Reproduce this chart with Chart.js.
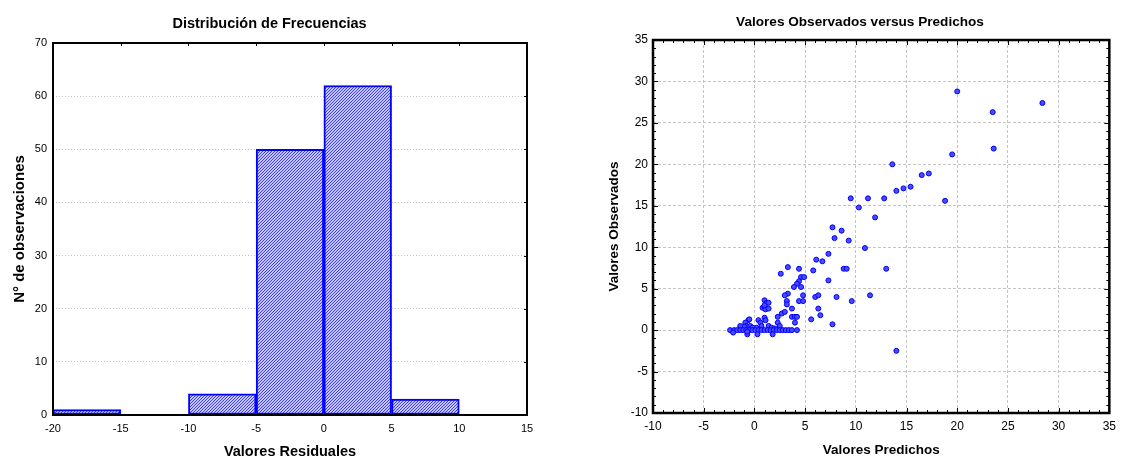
<!DOCTYPE html>
<html><head><meta charset="utf-8">
<script src="https://cdn.jsdelivr.net/npm/chart.js@4.4.1/dist/chart.umd.min.js"></script>
<style>
html,body{margin:0;padding:0;background:#fff;width:1122px;height:457px;overflow:hidden;}
.box{position:absolute;top:0;height:457px;width:561px;}
#b1{left:0;} #b2{left:561px;}
canvas{display:block;}
</style></head><body>
<div class="box" id="b1"><canvas id="c1" width="561" height="457"></canvas></div>
<div class="box" id="b2"><canvas id="c2" width="561" height="457"></canvas></div>
<script>
// ---- Histogram data ----
const binCenters = [-17.5, -12.5, -7.5, -2.5, 2.5, 7.5, 12.5];
const binCounts  = [1, 0, 4, 50, 62, 3, 0];
const histTitle = 'Distribución de Frecuencias';
const histXTitle = 'Valores Residuales';
const histYTitle = 'N° de observaciones';

// ---- Scatter data ----
const predichos = [
  20.0, 23.5, 28.4, 23.6, 19.5, 13.6, 16.5, 17.2, 14.0, 14.7, 15.4, 18.8, 9.5, 11.2, 12.8, 10.3, 11.9, 7.7, 8.6,
  7.9, 9.3, 10.9, 7.3, 6.1, 6.7, 3.3, 2.6, 4.4, 5.8, 8.8, 9.1, 13.0, 4.6, 4.9, 4.4, 4.2, 3.9, 4.6, 7.3,
  3.3, 3.0, 4.8, 6.0, 6.3, 8.1, 11.4, 3.2, 3.2, 4.4, 4.8, 9.6, 3.7, 6.3, 6.5, 5.6, 7.7, 2.7, 3.0, 2.3,
  3.7, 4.0, 4.2, 4.0, 2.3, 2.5, 14.0,
  1.0, 1.2, 1.4, 0.8, 1.0, 1.1, 1.4, 1.0, 1.0, 1.1, 0.4, 0.6, 1.4, 0.7, 0.2, -0.6, -0.5, -0.9, -0.8, -1.0,
  -1.4, -0.4, -0.2, 1.7, 2.0,
  -2.4, -2.0, -1.7, -1.4, -1.1, -0.8, -0.5, -0.2, 0.1, 0.4, 0.7, 1.0, 1.3, 1.6, 1.9, 2.2, 2.5, 2.8, 3.1,
  3.4, 3.7, 4.2,
  -2.1, -0.7, 0.3, 1.8, -0.7
];
const observados = [
  28.8, 26.3, 27.4, 21.9, 21.2, 20.0, 18.7, 18.9, 16.8, 17.1, 17.3, 15.6, 15.9, 15.9, 15.9, 14.8, 13.6, 12.4, 12.0,
  11.1, 10.8, 9.9, 9.2, 8.5, 8.3, 7.6, 6.8, 7.4, 7.2, 7.4, 7.4, 7.4, 6.4, 6.4, 5.9, 5.6, 5.2, 5.2, 6.0,
  4.4, 4.2, 4.2, 4.0, 4.2, 4.0, 4.2, 3.5, 3.1, 3.5, 3.5, 3.5, 2.6, 2.6, 1.8, 1.3, 0.7, 2.0, 2.2, 1.6,
  1.6, 1.6, 1.6, 0.9, 0.9, 0.5, -2.5,
  3.6, 3.3, 3.3, 2.7, 2.8, 2.5, 2.6, 3.0, 1.5, 1.2, 1.2, 0.9, 0.5, 0.5, 0.3, 1.2, 1.3, 0.9, 0.5, 0.4,
  0.5, 0.5, 0.3, 0.3, 0.2,
  0, 0, 0, 0, 0, 0, 0, 0, 0, 0, 0, 0, 0, 0, 0, 0, 0, 0, 0,
  0, 0, 0,
  -0.3, -0.5, -0.5, -0.5, -0.2
];
const scatTitle = 'Valores Observados versus Predichos';
const scatXTitle = 'Valores Predichos';
const scatYTitle = 'Valores Observados';

const F = '"Liberation Sans", Arial, Helvetica, sans-serif';

// hatch pattern (fine diagonal lines)
function makeHatch() {
  const t = document.createElement('canvas');
  t.width = 3; t.height = 3;
  const g = t.getContext('2d');
  g.fillStyle = '#ffffff'; g.fillRect(0, 0, 3, 3);
  g.strokeStyle = '#3030ff'; g.lineWidth = 1.05;
  g.beginPath();
  g.moveTo(-1, 4); g.lineTo(4, -1);
  g.moveTo(-1, 1); g.lineTo(1, -1);
  g.moveTo(2, 4); g.lineTo(4, 2);
  g.stroke();
  return g.createPattern(t, 'repeat');
}

// frame + inward tick marks drawn from the chart's own scales
const framePlugin = {
  id: 'frame',
  afterDatasetsDraw(chart, args, o) {
    const {ctx, chartArea: a} = chart;
    const xs = chart.scales.x, ys = chart.scales.y;
    ctx.save();
    ctx.strokeStyle = '#000';
    ctx.lineWidth = 1;
    const marks = (scale, step, len, sides, horiz) => {
      if (!step) return;
      ctx.beginPath();
      for (let v = scale.min; v <= scale.max + 1e-9; v += step) {
        const p = Math.round(scale.getPixelForValue(v)) + 0.5;
        for (const s of sides) {
          if (horiz) {
            if (s === 'top') { ctx.moveTo(p, a.top); ctx.lineTo(p, a.top + len); }
            else { ctx.moveTo(p, a.bottom); ctx.lineTo(p, a.bottom - len); }
          } else {
            if (s === 'left') { ctx.moveTo(a.left, p); ctx.lineTo(a.left + len, p); }
            else { ctx.moveTo(a.right, p); ctx.lineTo(a.right - len, p); }
          }
        }
      }
      ctx.stroke();
    };
    marks(xs, o.xMinor, o.minorLen, o.xSides, true);
    marks(ys, o.yMinor, o.minorLen, o.ySides, false);
    marks(xs, o.xMajor, o.majorLen, o.xSides, true);
    marks(ys, o.yMajor, o.majorLen, o.ySides, false);
    ctx.lineWidth = o.width;
    ctx.strokeRect(a.left, a.top, a.right - a.left, a.bottom - a.top);
    ctx.restore();
  }
};

// ---- Left: histogram ----
new Chart(document.getElementById('c1'), {
  type: 'bar',
  data: {
    datasets: [{
      data: binCenters.map((c, i) => ({x: c, y: binCounts[i]})),
      backgroundColor: makeHatch(),
      borderColor: '#0000ff',
      borderWidth: 2,
      borderSkipped: false,
      barPercentage: 1,
      categoryPercentage: 1
    }]
  },
  options: {
    responsive: false, animation: false, events: [],
    layout: {padding: {left: 12, right: 34, top: 0, bottom: 0}},
    plugins: {
      legend: {display: false}, tooltip: {enabled: false},
      title: {display: true, text: histTitle, color: '#000',
        font: {family: F, size: 14.5, weight: 'bold', lineHeight: 1.2}, padding: {top: 15, bottom: 10.6}},
      frame: {width: 2, xMajor: 5, yMajor: 10, majorLen: 3, xSides: ['top'], ySides: ['right']}
    },
    scales: {
      x: {type: 'linear', min: -20, max: 15, offset: false,
        ticks: {stepSize: 5, color: '#000', font: {family: F, size: 11}, padding: 7, maxRotation: 0},
        grid: {display: false, drawTicks: false}, border: {display: false},
        title: {display: true, text: histXTitle, color: '#000',
          font: {family: F, size: 14.5, weight: 'bold', lineHeight: 0.75}, padding: 0},
        afterFit(s) { s.height = 42; }
      },
      y: {min: 0, max: 70,
        ticks: {stepSize: 10, color: '#000', font: {family: F, size: 11}, padding: 6},
        grid: {color: '#c4c4c4', drawTicks: false, lineWidth: 1},
        border: {display: false, dash: [1, 2]},
        title: {display: true, text: histYTitle, color: '#000',
          font: {family: F, size: 15, weight: 'bold', lineHeight: 1.0}, padding: 0},
        afterFit(s) { s.width = 41; }
      }
    }
  },
  plugins: [framePlugin]
});

// ---- Right: scatter ----
new Chart(document.getElementById('c2'), {
  type: 'scatter',
  data: {
    datasets: [{
      data: predichos.map((x, i) => ({x: x, y: observados[i]})),
      pointStyle: 'circle',
      pointRadius: 2.5,
      backgroundColor: '#4a4aff',
      borderColor: '#0000ff',
      borderWidth: 1
    }]
  },
  options: {
    responsive: false, animation: false, events: [],
    layout: {padding: {left: 47, right: 10, top: 0, bottom: 0}},
    plugins: {
      legend: {display: false}, tooltip: {enabled: false},
      title: {display: true, text: scatTitle, color: '#000',
        font: {family: F, size: 13.6, weight: 'bold', lineHeight: 1.2}, padding: {top: 14, bottom: 9.7}},
      frame: {width: 2.5, xMinor: 1, yMinor: 1, minorLen: 3, xMajor: 5, yMajor: 5, majorLen: 5,
        xSides: ['top', 'bottom'], ySides: ['left', 'right']}
    },
    scales: {
      x: {type: 'linear', min: -10, max: 35,
        ticks: {stepSize: 5, color: '#000', font: {family: F, size: 12}, padding: 6, maxRotation: 0},
        grid: {color: '#c4c4c4', drawTicks: false, lineWidth: 1},
        border: {display: false, dash: [3, 2]},
        title: {display: true, text: scatXTitle, color: '#000',
          font: {family: F, size: 13.5, weight: 'bold', lineHeight: 1.0}, padding: 0},
        afterFit(s) { s.height = 44; }
      },
      y: {type: 'linear', min: -10, max: 35,
        ticks: {stepSize: 5, color: '#000', font: {family: F, size: 12}, padding: 5},
        grid: {color: '#c4c4c4', drawTicks: false, lineWidth: 1},
        border: {display: false, dash: [3, 2]},
        title: {display: true, text: scatYTitle, color: '#000',
          font: {family: F, size: 13.5, weight: 'bold', lineHeight: 1.0}, padding: 0},
        afterFit(s) { s.width = 45; }
      }
    }
  },
  plugins: [framePlugin]
});
</script>
</body></html>
